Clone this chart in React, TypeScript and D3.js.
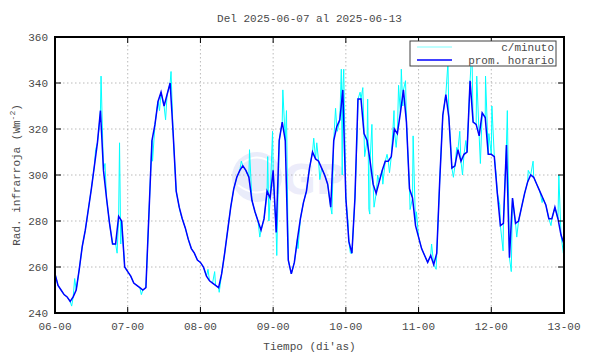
import React, { useEffect } from 'react';
import * as d3 from 'd3';

const TITLE = 'Del 2025-06-07 al 2025-06-13';
const Y_LABEL = 'Rad. infrarroja (Wm';
const Y_LABEL_SUP = '-2';
const X_LABEL = "Tiempo (di'as)";
const X_TICK_LABELS = ['06-00', '07-00', '08-00', '09-00', '10-00', '11-00', '12-00', '13-00'];
const Y_TICKS = [240, 260, 280, 300, 320, 340, 360];
const LEGEND = ['c/minuto', 'prom. horario'];

// hourly averages, hour 0 = 2025-06-07 00:00
const HOURLY = [
  257, 252, 250, 248, 247, 245, 247, 250, 259, 269, 276, 285, 294, 304, 314, 328, 302, 290, 279, 270, 270, 282, 280, 260,
  258, 256, 253, 252, 251, 250, 251, 283, 315, 322, 332, 336, 330, 335, 340, 318, 293, 286, 281, 277, 272, 268, 266, 263,
  262, 260, 256, 254, 253, 252, 251, 257, 266, 276, 286, 294, 299, 302, 304, 302, 299, 289, 284, 280, 276, 281, 293, 290,
  302, 275, 315, 323, 315, 263, 257, 262, 272, 281, 288, 293, 303, 310, 307, 306, 303, 300, 296, 286, 315, 321, 324, 337,
  290, 271, 266, 290, 333, 333, 318, 315, 306, 296, 292, 297, 302, 306, 306, 308, 320, 318, 327, 337, 323, 294, 290, 278,
  273, 268, 265, 262, 265, 261, 266, 298, 326, 335, 325, 303, 304, 311, 306, 309, 310, 341, 323, 322, 317, 327, 325, 309,
  309, 308, 292, 278, 279, 313, 264, 290, 279, 280, 286, 292, 297, 300, 299, 296, 293, 290, 287, 281, 281, 286, 281, 274, 270,
];

// minute-data excursions [hour, value]
const MINUTE_SPIKES: [number, number][] = [
  [5.5, 243], [6.5, 255], [13.4, 311], [14.5, 320], [15.2, 343], [16.5, 305], [20.5, 266], [21.3, 314], [21.7, 270],
  [28.5, 248], [32.2, 306], [34.5, 328], [36.5, 324], [38.3, 345], [41.5, 283], [50.5, 259], [52.7, 258], [54.2, 249],
  [61.5, 306], [64.2, 311], [67.6, 273], [70.2, 308], [70.6, 280], [71.8, 319], [73.2, 265], [75.2, 337], [76.4, 328],
  [80.2, 268], [85.4, 316], [86.4, 314], [87.4, 298], [91.4, 283], [92.6, 329], [93.2, 319], [94.5, 346], [94.8, 300],
  [95.3, 346], [96.7, 280], [97.5, 266], [99.8, 320], [100.7, 336], [101.6, 338], [102.2, 308], [103.2, 333], [103.6, 285],
  [103.9, 283], [104.6, 322], [105.3, 286], [106.5, 300], [108.2, 296], [109.6, 309], [110.4, 301], [111.9, 328], [112.6, 312],
  [113.4, 339], [114.3, 346], [114.8, 330], [115.7, 341], [117.2, 285], [118.2, 317], [119.3, 284], [124.3, 270], [125.8, 259],
  [129.7, 349], [130.2, 321], [131.5, 299], [132.6, 312], [133.6, 319], [134.5, 300], [135.6, 315], [137.4, 350], [137.7, 347],
  [139.2, 343], [140.4, 305], [142.1, 343], [143.2, 318], [144.2, 330], [145.6, 300], [146.8, 287], [147.9, 267], [149.3, 328],
  [150.6, 258], [152.4, 273], [156.2, 302], [157.8, 306], [160.8, 288], [163.7, 278], [166.3, 300], [167.8, 266],
];

const W = 590;
const H = 354;
const L = 55;
const R = 564;
const T = 37;
const B = 313;
const FONT = "'Liberation Mono', 'DejaVu Sans Mono', monospace";
const TXT = '#4a4a4a';

export default function App() {
  useEffect(() => {
    document.body.style.margin = '0';
  }, []);

  const x = d3.scaleLinear().domain([0, 168]).range([L, R]);
  const y = d3.scaleLinear().domain([240, 360]).range([B, T]);
  const xTicks = X_TICK_LABELS.map((_, i) => i * 24);

  const hourlyPts: [number, number][] = HOURLY.map((v, i) => [i, v]);
  const minutePts = [...hourlyPts, ...MINUTE_SPIKES].sort((a, b) => a[0] - b[0]);
  const line = d3
    .line<[number, number]>()
    .x((d) => x(d[0]))
    .y((d) => y(d[1]));

  return (
    <svg width={W} height={H} style={{ display: 'block', background: '#fff' }}>
      <defs>
        <clipPath id="plotclip">
          <rect x={L} y={T} width={R - L} height={B - T} />
        </clipPath>
      </defs>
      <rect x={0} y={0} width={W} height={H} fill="#fff" />

      {/* watermark */}
      <g opacity={0.45}>
        <circle cx={257} cy={177} r={25} fill="#d0d6f6" />
        <path d="M240,165 Q257,150 274,165" stroke="#fff" strokeWidth={2} fill="none" />
        <path d="M238,185 Q257,200 276,185" stroke="#fff" strokeWidth={2} fill="none" />
        <text x={268} y={194} fontFamily="'DejaVu Sans', sans-serif" fontWeight="bold" fontSize={40} fill="#d6d6f4">
          IGP
        </text>
      </g>

      {/* grid */}
      {xTicks.slice(1, -1).map((t) => (
        <line key={'gx' + t} x1={x(t)} x2={x(t)} y1={T} y2={B} stroke="#a8a8a8" strokeWidth={0.8} strokeDasharray="1.5,2.5" />
      ))}
      {Y_TICKS.slice(1, -1).map((t) => (
        <line key={'gy' + t} x1={L} x2={R} y1={y(t)} y2={y(t)} stroke="#a8a8a8" strokeWidth={0.8} strokeDasharray="1.5,2.5" />
      ))}

      {/* data */}
      <g clipPath="url(#plotclip)">
        <path d={line(minutePts) || ''} fill="none" stroke="#00ffff" strokeWidth={1} />
        <path d={line(hourlyPts) || ''} fill="none" stroke="#0000ff" strokeWidth={1.5} />
      </g>

      {/* ticks */}
      {xTicks.map((t) => (
        <g key={'tx' + t}>
          <line x1={x(t)} x2={x(t)} y1={B} y2={B - 6} stroke="#000" strokeWidth={1} />
          <line x1={x(t)} x2={x(t)} y1={T} y2={T + 6} stroke="#000" strokeWidth={1} />
        </g>
      ))}
      {Y_TICKS.map((t) => (
        <g key={'ty' + t}>
          <line x1={L} x2={L + 6} y1={y(t)} y2={y(t)} stroke="#000" strokeWidth={1} />
          <line x1={R} x2={R - 6} y1={y(t)} y2={y(t)} stroke="#000" strokeWidth={1} />
        </g>
      ))}

      {/* frame */}
      <rect x={L} y={T} width={R - L} height={B - T} fill="none" stroke="#000" strokeWidth={2} />

      {/* tick labels */}
      {xTicks.map((t, i) => (
        <text key={'lx' + t} x={x(t)} y={B + 17} textAnchor="middle" fontFamily={FONT} fontSize={11} fill={TXT}>
          {X_TICK_LABELS[i]}
        </text>
      ))}
      {Y_TICKS.map((t) => (
        <text key={'ly' + t} x={L - 7} y={y(t) + 4} textAnchor="end" fontFamily={FONT} fontSize={11} fill={TXT}>
          {t}
        </text>
      ))}

      {/* titles */}
      <text x={(L + R) / 2} y={22} textAnchor="middle" fontFamily={FONT} fontSize={11} fill={TXT}>
        {TITLE}
      </text>
      <text x={(L + R) / 2} y={350} textAnchor="middle" fontFamily={FONT} fontSize={11} fill={TXT}>
        {X_LABEL}
      </text>
      <text
        transform={`translate(20, ${(T + B) / 2}) rotate(-90)`}
        textAnchor="middle"
        fontFamily={FONT}
        fontSize={11}
        fill={TXT}
      >
        {Y_LABEL}
        <tspan fontSize={8} dy={-5}>{Y_LABEL_SUP}</tspan>
        <tspan dy={5}>)</tspan>
      </text>

      {/* legend */}
      <rect x={410} y={41} width={146} height={25} fill="#fff" stroke="#404040" strokeWidth={1} />
      <line x1={417} x2={452} y1={47} y2={47} stroke="#7fffff" strokeWidth={1} />
      <text x={554} y={51} textAnchor="end" fontFamily={FONT} fontSize={11} fill={TXT}>
        {LEGEND[0]}
      </text>
      <line x1={417} x2={452} y1={60} y2={60} stroke="#0000ff" strokeWidth={1.5} />
      <text x={554} y={64} textAnchor="end" fontFamily={FONT} fontSize={11} fill={TXT}>
        {LEGEND[1]}
      </text>
    </svg>
  );
}
